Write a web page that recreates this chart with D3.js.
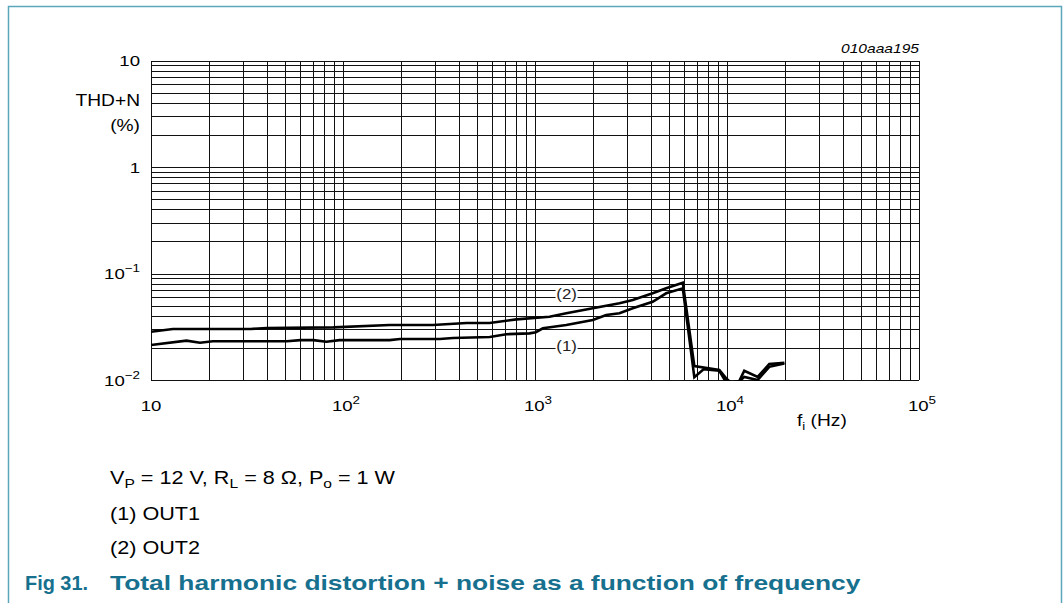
<!DOCTYPE html>
<html><head><meta charset="utf-8">
<script src="https://cdn.jsdelivr.net/npm/d3@7"></script>
<style>body{margin:0;background:#fff}svg{display:block;font-family:"Liberation Sans",Arial,sans-serif}</style>
</head><body><svg id="c" width="1063" height="603"></svg>
<script>
// ---- data ----
const xDomain = [10, 1e5];
const yDomain = [0.01, 10];
const xTickLabels = [["10",""],["10","2"],["10","3"],["10","4"],["10","5"]];
const xTickValues = [10, 100, 1000, 10000, 100000];
const yTickLabels = [["10",""],["1",""],["10","\u22121"],["10","\u22122"]];
const yTickValues = [10, 1, 0.1, 0.01];
const out1Freq = [10,15.3,18,21,51,60,70,82,96,175,198,319,374,581,709,937,1010,1099,1455,2000,2350,2754,3230,4100,4820,5886,6760,7550,9120,9800,10500,11600,12300,14440,16600,19900];
const out1Val  = [0.0213,0.0234,0.0224,0.0231,0.0231,0.0237,0.0237,0.0229,0.0237,0.0237,0.0243,0.0243,0.0248,0.0253,0.0269,0.0274,0.0281,0.0306,0.0328,0.0366,0.0408,0.0423,0.0471,0.0543,0.0652,0.0726,0.0106,0.0126,0.0122,0.0098,0.0094,0.0097,0.0107,0.0100,0.0133,0.0143];
const out2Freq = [10,13,33,40,89,175,294,440,580,800,1190,1455,2000,2754,3230,4100,4820,5886,6760,9120,9880,10500,11600,12300,14440,16600,19900];
const out2Val  = [0.0284,0.0301,0.0301,0.0308,0.0312,0.0328,0.0328,0.0343,0.0343,0.0371,0.0393,0.0423,0.0471,0.0525,0.0564,0.0652,0.0726,0.082,0.0135,0.0124,0.0104,0.0094,0.0098,0.0122,0.0107,0.0141,0.0145];
const curveLabels = [["(2)", 1460, 0.0643],["(1)", 1460, 0.0209]];

// ---- layout ----
const svg = d3.select("#c");
const L = 151, R = 919, T = 60.5, B = 380;
const x = d3.scaleLog().domain(xDomain).range([L, R]);
const y = d3.scaleLog().domain(yDomain).range([B, T]);
const SX = 1.2;

// frame border
svg.append("path").attr("d","M8.5,603 V6.5 H1061.5 V603").attr("fill","none").attr("stroke","#5aa6ba").attr("stroke-width",1.5);

// grid
const grid = svg.append("g").attr("stroke","#111").attr("stroke-width",1).attr("shape-rendering","crispEdges");
const xg = [], yg = [];
for (let d = 10; d < 1e5; d *= 10) for (let k = 1; k < 10; k++) xg.push(d*k);
xg.push(1e5);
for (let d = 0.01; d < 9; d *= 10) for (let k = 1; k < 10; k++) yg.push(d*k);
yg.push(10);
grid.selectAll(".vx").data(xg).join("line").attr("x1",d=>Math.round(x(d))+0.5).attr("x2",d=>Math.round(x(d))+0.5).attr("y1",T).attr("y2",B);
grid.selectAll(".hy").data(yg).join("line").attr("y1",d=>Math.round(y(d))+0.5).attr("y2",d=>Math.round(y(d))+0.5).attr("x1",L).attr("x2",R);

// curves
svg.append("clipPath").attr("id","clip").append("rect").attr("x",L).attr("y",T).attr("width",R-L).attr("height",B-T+1);
const line = d3.line().x(d=>x(d[0])).y(d=>y(d[1]));
const series = [d3.zip(out1Freq,out1Val), d3.zip(out2Freq,out2Val)];
svg.append("g").attr("clip-path","url(#clip)").selectAll("path").data(series).join("path")
  .attr("d",line).attr("fill","none").attr("stroke","#000").attr("stroke-width",2.6).attr("stroke-linejoin","miter");

// curve labels
curveLabels.forEach(([t,f,v])=>{
  const g = svg.append("g").attr("transform",`translate(${x(f)},${y(v)})`);
  g.append("rect").attr("x",-11).attr("y",-8).attr("width",22).attr("height",15).attr("fill","#fff");
  g.append("text").attr("transform",`scale(${SX},1)`).attr("text-anchor","middle").attr("dy","0.35em").attr("font-size",14).attr("fill","#222").text(t);
});

function supText(g, base, sup, size, anchor){
  const t = g.append("text").attr("transform",`scale(${SX},1)`).attr("text-anchor",anchor).attr("font-size",size).attr("fill","#000");
  t.append("tspan").text(base);
  if (sup) t.append("tspan").attr("dy",-size*0.42).attr("font-size",size*0.72).text(sup);
  return t;
}
// y tick labels
yTickValues.forEach((v,i)=>{
  const g = svg.append("g").attr("transform",`translate(140,${y(v)+5.5})`);
  supText(g, yTickLabels[i][0], yTickLabels[i][1], 15.5, "end");
});
// x tick labels
xTickValues.forEach((v,i)=>{
  const g = svg.append("g").attr("transform",`translate(${x(v)+ (i?3:0)},${411})`);
  supText(g, xTickLabels[i][0], xTickLabels[i][1], 15.5, "middle");
});
// axis titles
function st(xp, yp, txt, size, anchor, opts={}){
  const g = svg.append("g").attr("transform",`translate(${xp},${yp})`);
  const t = g.append("text").attr("transform",`scale(${opts.sx||SX},1)`).attr("text-anchor",anchor).attr("font-size",size).attr("fill",opts.fill||"#000");
  if (opts.weight) t.attr("font-weight",opts.weight);
  if (opts.style) t.attr("font-style",opts.style);
  return t;
}
st(140,106,"",16,"end").text("THD+N");
st(140,131,"",16,"end").text("(%)");
const fi = st(797,426,"",16,"start");
fi.append("tspan").text("f");
fi.append("tspan").attr("dy",4).attr("font-size",11).text("i");
fi.append("tspan").attr("dy",-4).text(" (Hz)");
st(919,53,"",13,"end",{style:"italic"}).text("010aaa195");

// notes
const n1 = st(110,484,"",18,"start");
n1.append("tspan").text("V");
n1.append("tspan").attr("dy",4).attr("font-size",13).text("P");
n1.append("tspan").attr("dy",-4).text(" = 12 V, R");
n1.append("tspan").attr("dy",4).attr("font-size",13).text("L");
n1.append("tspan").attr("dy",-4).text(" = 8 \u03a9, P");
n1.append("tspan").attr("dy",4).attr("font-size",13).text("o");
n1.append("tspan").attr("dy",-4).text(" = 1 W");
st(110,520,"",18,"start").text("(1) OUT1");
st(110,554,"",18,"start").text("(2) OUT2");

// caption (stretched uniformly to the measured widths)
function fitText(t, w){ const n = t.node().getComputedTextLength(); t.attr("transform",`scale(${w/n},1)`); }
fitText(st(25,590,"",19.5,"start",{weight:"bold",fill:"#16708e"}).text("Fig 31."), 63);
fitText(st(110,590,"",19.5,"start",{weight:"bold",fill:"#16708e"}).text("Total harmonic distortion + noise as a function of frequency"), 750);
</script></body></html>
